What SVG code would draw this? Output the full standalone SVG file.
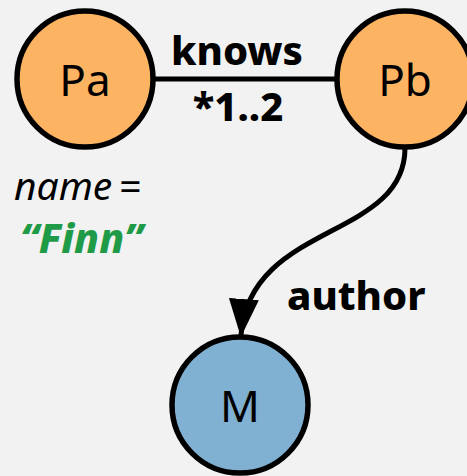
<svg xmlns="http://www.w3.org/2000/svg" width="467" height="476" viewBox="0 0 467 476">
  <defs>
    <style>
      .node circle { stroke: #000; stroke-width: 5.5; }
      .person circle { fill: #fdb462; }
      .movie circle { fill: #80b1d3; }
      .node text { font-family: "Noto Sans", "Liberation Sans", sans-serif; font-size: 44px; text-anchor: middle; fill: #000; }
      .edge { fill: none; stroke: #000; stroke-width: 5; }
      .lbl { font-family: "Noto Sans", "Liberation Sans", sans-serif; font-weight: 800; font-size: 40px; fill: #000; }
      .prop { font-family: "Noto Sans", "Liberation Sans", sans-serif; font-style: italic; font-size: 39px; word-spacing: -4px; fill: #000; }
      .val { font-family: "Noto Sans", "Liberation Sans", sans-serif; font-style: italic; font-weight: 800; font-size: 41px; fill: #1f9a47; }
    </style>
    <marker id="arrow" viewBox="0 0 38 30" refX="36" refY="15" markerWidth="38" markerHeight="30" markerUnits="userSpaceOnUse" orient="auto">
      <path d="M0,0 L38,15 L0,30 Z" fill="#000"/>
    </marker>
  </defs>
  <rect width="467" height="476" fill="#f2f2f2"/>

  <g id="connectors">
    <line class="edge" x1="150" y1="79" x2="340" y2="79"/>
    <path class="edge" d="M405,148 C405,240 250,222 241,335" marker-end="url(#arrow)"/>
  </g>

  <g id="edge-labels">
    <text class="lbl" x="237" y="65" text-anchor="middle">knows</text>
    <text class="lbl" x="238" y="121" text-anchor="middle">*1..2</text>
    <text class="lbl" x="287" y="310" font-size="38">author</text>
  </g>

  <g id="Pa" class="node person">
    <circle cx="85" cy="79" r="68"/>
    <text x="85" y="96">Pa</text>
  </g>
  <g id="Pb" class="node person">
    <circle cx="405" cy="79" r="68"/>
    <text x="405" y="96">Pb</text>
  </g>
  <g id="M" class="node movie">
    <circle cx="240" cy="405" r="68"/>
    <text x="240" y="422">M</text>
  </g>

  <g id="Pa-property">
    <text class="prop" x="14" y="200">name =</text>
    <text class="val" x="20" y="253">“Finn”</text>
  </g>
</svg>
